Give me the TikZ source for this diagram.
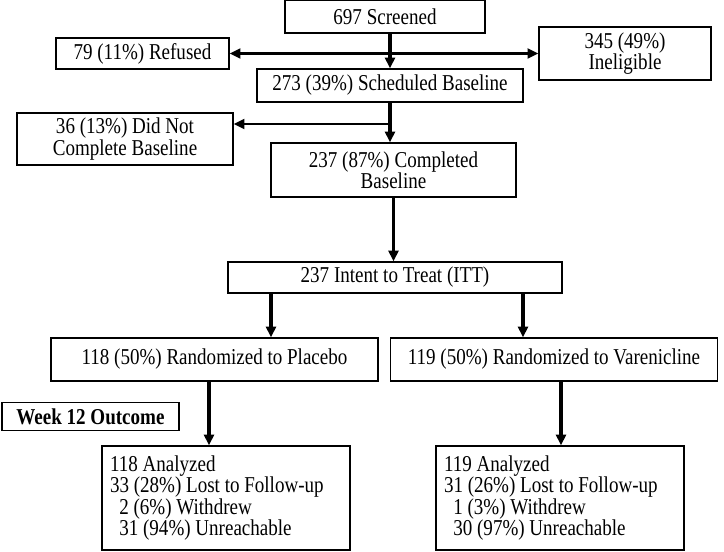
\documentclass[tikz,border=0pt]{standalone}
\usepackage{fontspec}
\setmainfont[FakeStretch=0.84]{Liberation Serif}
\usetikzlibrary{arrows.meta}
\def\px{0.75pt}

\begin{document}
\begin{tikzpicture}[x=0.75pt,y=-0.75pt]
	\useasboundingbox (0,0) rectangle (724,552);
	\begin{scope}[every node/.style={rectangle,draw,line width=1.1pt,inner sep=0pt,align=center,font=\fontsize{17}{16.1}\selectfont}]
		\node[minimum width=200*\px,minimum height=33*\px] (scr) at (385,16.5) {697 Screened};
		\node[minimum width=173*\px,minimum height=31*\px] (ref) at (142.5,53.5) {79 (11\%) Refused};
		\node[minimum width=172*\px,minimum height=53*\px] (inel) at (625,53.5) {345 (49\%)\\Ineligible};
		\node[minimum width=266*\px,minimum height=33*\px] (sch) at (390,85.5) {273 (39\%) Scheduled Baseline};
		\node[minimum width=216*\px,minimum height=52*\px] (dnc) at (125,139) {36 (13\%) Did Not\\Complete Baseline};
		\node[minimum width=245*\px,minimum height=54*\px] (cmp) at (393.5,170) {237 (87\%) Completed\\Baseline};
		\node[minimum width=334*\px,minimum height=31*\px] (itt) at (395,277.5) {237 Intent to Treat (ITT)};
		\node[minimum width=327*\px,minimum height=43*\px] (plc) at (214.5,359.5) {118 (50\%) Randomized to Placebo};
		\node[minimum width=327*\px,minimum height=43*\px] (var) at (554,359.5) {119 (50\%) Randomized to Varenicline};
		\node[minimum width=177*\px,minimum height=28*\px,font=\fontsize{17}{16.1}\selectfont\bfseries] (wk) at (90.5,416.5) {Week 12 Outcome};
		\node[minimum width=248*\px,minimum height=104*\px,text width=232*\px,align=flush left] (outL) at (226,498) {118 Analyzed\\33 (28\%) Lost to Follow-up\\\hspace*{7pt}2 (6\%) Withdrew\\\hspace*{7pt}31 (94\%) Unreachable};
		\node[minimum width=248*\px,minimum height=104*\px,text width=232*\px,align=flush left] (outR) at (560,498) {119 Analyzed\\31 (26\%) Lost to Follow-up\\\hspace*{7pt}1 (3\%) Withdrew\\\hspace*{7pt}30 (97\%) Unreachable};
	\end{scope}

	% where the side arrows leave the main line
	\coordinate (split) at (390,124);
	\coordinate (armL) at (271,293);
	\coordinate (armR) at (523,293);
	\coordinate (dropL) at (209,381);
	\coordinate (dropR) at (561,381);

	\begin{scope}[>={Triangle[length=8pt,width=7.5pt]},line width=2.4pt]
		\path (scr.south -| sch.north) edge[->] (sch.north);
		\path (ref.east) edge[<->,line width=1.6pt] (ref.east -| inel.west);
		\path (sch.south) edge[->] (sch.south |- cmp.north);
		\path (split) edge[->,line width=1.6pt] (split -| dnc.east);
		\path (cmp.south) edge[->] (cmp.south |- itt.north);
		\path (armL) edge[->] (armL |- plc.north);
		\path (armR) edge[->] (armR |- var.north);
		\path (dropL) edge[->] (dropL |- outL.north);
		\path (dropR) edge[->] (dropR |- outR.north);
	\end{scope}
\end{tikzpicture}
\end{document}
